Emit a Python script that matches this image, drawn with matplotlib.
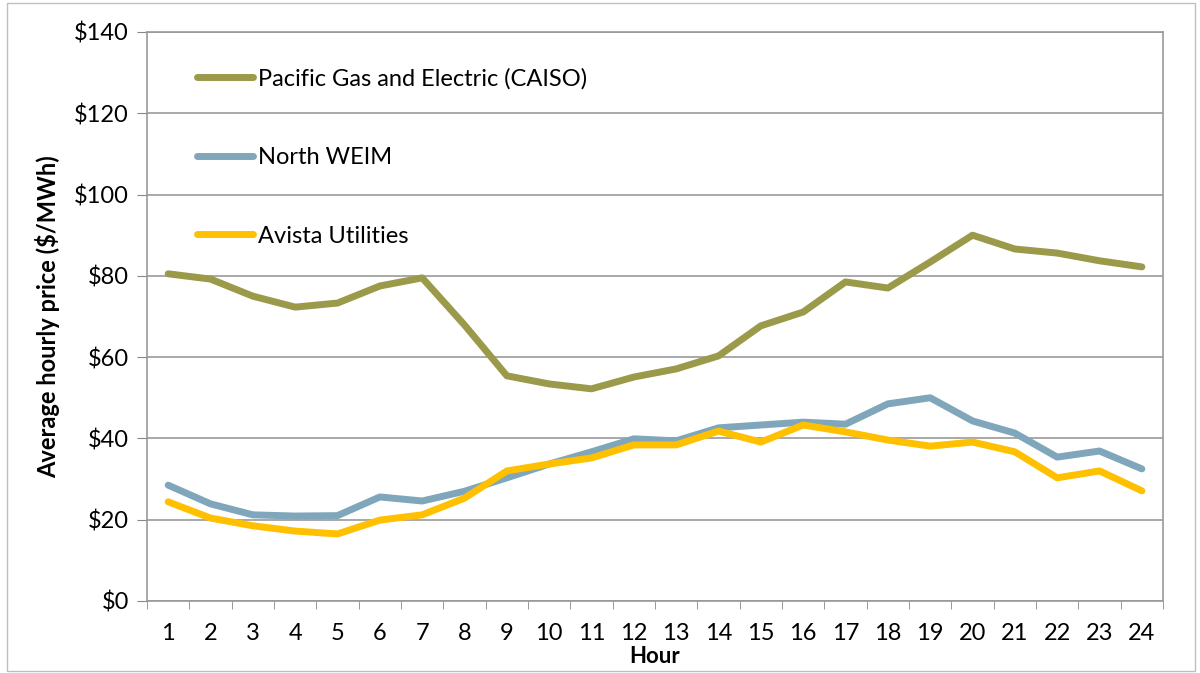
import matplotlib.pyplot as plt
from matplotlib.patches import Rectangle

plt.rcParams['font.family'] = ['Lato', 'DejaVu Sans']

hours = list(range(1, 25))
pge = [80.5, 79.2, 75.0, 72.3, 73.3, 77.5, 79.5, 67.9, 55.4, 53.4, 52.2, 55.1,
       57.1, 60.3, 67.7, 71.1, 78.5, 77.0, 83.4, 90.0, 86.6, 85.6, 83.7, 82.2]
north_weim = [28.5, 23.9, 21.2, 20.9, 21.0, 25.6, 24.6, 27.0, 30.3, 33.7, 36.7, 39.9,
              39.4, 42.6, 43.3, 44.0, 43.5, 48.5, 50.0, 44.3, 41.3, 35.4, 36.9, 32.5]
avista = [24.4, 20.4, 18.5, 17.2, 16.5, 19.9, 21.2, 25.3, 32.0, 33.7, 35.2, 38.4,
          38.4, 41.8, 39.1, 43.3, 41.6, 39.6, 38.1, 39.1, 36.7, 30.3, 32.0, 27.1]

labels = ["Pacific Gas and Electric (CAISO)", "North WEIM", "Avista Utilities"]
colors = ["#9A9A4A", "#7FA6BA", "#FFC000"]

fig = plt.figure(figsize=(12, 6.73), dpi=100)
ax = fig.add_axes([0.1225, 0.107, 0.8467, 0.8455])

# light frame round the whole chart
fig.patches.append(Rectangle((0.006, 0.003), 0.99, 0.993, transform=fig.transFigure,
                             fill=False, edgecolor="#BFBFBF", lw=1))

for series, lab, col in zip([pge, north_weim, avista], labels, colors):
    ax.plot(hours, series, color=col, lw=5, label=lab, solid_capstyle='round')

ax.set_xlim(0.5, 24.5)
ax.set_ylim(0, 140)
ax.set_yticks(range(0, 141, 20))
ax.set_yticklabels([f"${v}" for v in range(0, 141, 20)], fontsize=17)
ax.set_xticks(hours)
ax.set_xticklabels([str(h) for h in hours], fontsize=17)
ax.set_xticks([h + 0.5 for h in range(0, 25)], minor=True)
ax.tick_params(axis='x', which='major', length=0, pad=16)
ax.tick_params(axis='x', which='minor', length=6, color="#888888")
ax.tick_params(axis='y', length=7, color="#888888", pad=6)

ax.grid(axis='y', color="#999999", lw=1.2)
ax.set_axisbelow(True)
for s in ax.spines.values():
    s.set_color("#999999")
    s.set_linewidth(1.2)

ax.set_ylabel("Average hourly price ($/MWh)", fontsize=17, fontweight='bold', labelpad=10)
ax.set_xlabel("Hour", fontsize=16, fontweight='bold', labelpad=1)

ax.legend(loc='upper left', bbox_to_anchor=(0.028, 0.974), frameon=False,
          fontsize=17, handlelength=2.4, labelspacing=2.44, handletextpad=0.2)

fig.savefig("out.png", dpi=100)
